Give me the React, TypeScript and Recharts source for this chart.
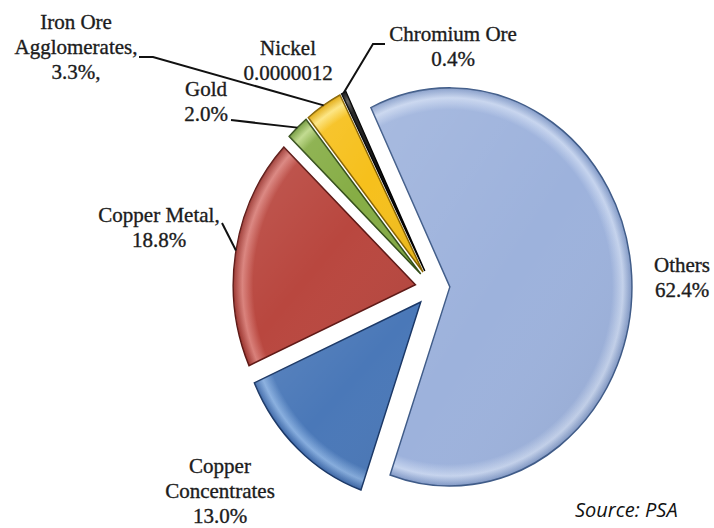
import React from 'react';
import { PieChart, Pie, Cell, Sector } from 'recharts';

// ---------- data ----------
const categories = [
  'Others',
  'Copper Concentrates',
  'Copper Metal',
  'Gold',
  'Iron Ore Agglomerates',
  'Nickel',
  'Chromium Ore',
];
const shares = [62.4, 13.0, 18.8, 2.0, 3.3, 0.0000012, 0.4];
const nameLines = [
  ['Others'],
  ['Copper', 'Concentrates'],
  ['Copper Metal,'],
  ['Gold'],
  ['Iron Ore', 'Agglomerates,'],
  ['Nickel'],
  ['Chromium Ore'],
];
const valueLabels = ['62.4%', '13.0%', '18.8%', '2.0%', '3.3%,', '0.0000012', '0.4%'];
const sourceText = 'Source: PSA';

// ---------- style ----------
const BASE = ['#9DB2DC', '#4A78B8', '#B9473F', '#86AD45', '#F6C01C', '#8E7CC3', '#141414'];
const LIGHT = ['#C6D4EE', '#86ADDE', '#D9807A', '#BCD886', '#FDE47A', '#B7A9DD', '#555555'];
const DARK = ['#8098C6', '#3A65A6', '#9A332D', '#6A952F', '#E0A400', '#6B5A9E', '#000000'];
const EDGE = ['#3F5B88', '#1A3766', '#5E1815', '#35501A', '#8A6500', '#4A3A70', '#000000'];

const W = 714;
const H = 528;
const CX = 432.5;
const CY = 288;
const R = 199;
const SX = 0.915;
const EXPLODE = 19;
const START = 115.7;
const RAD = Math.PI / 180;
const LINE_H = 25;
const FONT = '"Liberation Serif", "Times New Roman", serif';

const LABEL_LAYOUT: { x: number; y: number; leader: number[][] | null }[] = [
  { x: 682, y: 272, leader: null },
  { x: 220, y: 473, leader: null },
  { x: 159, y: 222, leader: [[222, 223]] },
  { x: 206, y: 96, leader: [[231, 120]] },
  { x: 76, y: 29, leader: [[139, 57], [153, 57]] },
  { x: 288, y: 55, leader: null },
  { x: 453, y: 41, leader: [[385, 44], [373, 44]] },
];

const data = categories.map((name, i) => ({ name, value: shares[i] }));

const idxOf = (p: any) => {
  const n = p?.payload?.name ?? p?.name;
  const i = categories.indexOf(n);
  return i >= 0 ? i : p?.index ?? 0;
};

const ExplodedSector = (props: any) => {
  const { cx, cy, midAngle, outerRadius, startAngle, endAngle } = props;
  const i = idxOf(props);
  const dx = EXPLODE * Math.cos(-midAngle * RAD);
  const dy = EXPLODE * Math.sin(-midAngle * RAD);
  const t = `translate(${cx} ${cy}) scale(${SX} 1) translate(${-cx + dx} ${-cy + dy})`;
  return (
    <g transform={t}>
      <Sector
        cx={cx}
        cy={cy}
        innerRadius={0}
        outerRadius={outerRadius}
        startAngle={startAngle}
        endAngle={endAngle}
        fill={`url(#pieGrad${i})`}
        stroke={EDGE[i]}
        strokeWidth={1.6}
      />
      <Sector
        cx={cx}
        cy={cy}
        innerRadius={0}
        outerRadius={outerRadius}
        startAngle={startAngle}
        endAngle={endAngle}
        fill="url(#pieShade)"
        stroke="none"
      />
    </g>
  );
};

const renderLabel = (props: any) => {
  const { cx, cy, midAngle, outerRadius } = props;
  const i = idxOf(props);
  const lay = LABEL_LAYOUT[i];
  const lines = [...nameLines[i], valueLabels[i]];
  const rr = outerRadius + EXPLODE;
  const ex = cx + SX * rr * Math.cos(-midAngle * RAD);
  const ey = cy + rr * Math.sin(-midAngle * RAD);
  const pts = lay.leader ? [...lay.leader, [ex, ey]] : null;
  return (
    <g key={`lbl-${i}`}>
      {pts && (
        <polyline
          points={pts.map((p) => p.join(',')).join(' ')}
          fill="none"
          stroke="#111"
          strokeWidth={2}
        />
      )}
      <text
        x={lay.x}
        y={lay.y}
        textAnchor="middle"
        fontFamily={FONT}
        fontSize={21}
        fill="#1c1c1c"
        stroke="#1c1c1c"
        strokeWidth={0.35}
      >
        {lines.map((ln, k) => (
          <tspan key={k} x={lay.x} y={lay.y + k * LINE_H}>
            {ln}
          </tspan>
        ))}
      </text>
    </g>
  );
};

export default function App() {
  return (
    <div style={{ position: 'absolute', left: 0, top: 0, width: W, height: H, background: '#fff' }}>
      <PieChart width={W} height={H} margin={{ top: 0, right: 0, bottom: 0, left: 0 }}>
        <defs>
          {BASE.map((c, i) => (
            <radialGradient
              key={i}
              id={`pieGrad${i}`}
              gradientUnits="userSpaceOnUse"
              cx={CX}
              cy={CY}
              r={R}
            >
              <stop offset="0%" stopColor={c} />
              <stop offset="89%" stopColor={c} />
              <stop offset="95%" stopColor={LIGHT[i]} />
              <stop offset="100%" stopColor={DARK[i]} />
            </radialGradient>
          ))}
          <linearGradient id="pieShade" x1="0" y1="0" x2="1" y2="1">
            <stop offset="0%" stopColor="#ffffff" stopOpacity={0.12} />
            <stop offset="50%" stopColor="#ffffff" stopOpacity={0} />
            <stop offset="100%" stopColor="#000000" stopOpacity={0.08} />
          </linearGradient>
        </defs>
        <Pie
          data={data}
          dataKey="value"
          nameKey="name"
          cx={CX}
          cy={CY}
          innerRadius={0}
          outerRadius={R}
          startAngle={START}
          endAngle={START - 360}
          paddingAngle={0}
          isAnimationActive={false}
          shape={ExplodedSector}
          label={renderLabel}
          labelLine={false}
          stroke="none"
        >
          {data.map((d, i) => (
            <Cell key={d.name} fill={BASE[i]} />
          ))}
        </Pie>
        <text
          x={575}
          y={517}
          fontFamily='"Open Sans", sans-serif'
          fontStyle="italic"
          fontSize={20}
          fill="#111"
        >
          {sourceText}
        </text>
      </PieChart>
    </div>
  );
}
